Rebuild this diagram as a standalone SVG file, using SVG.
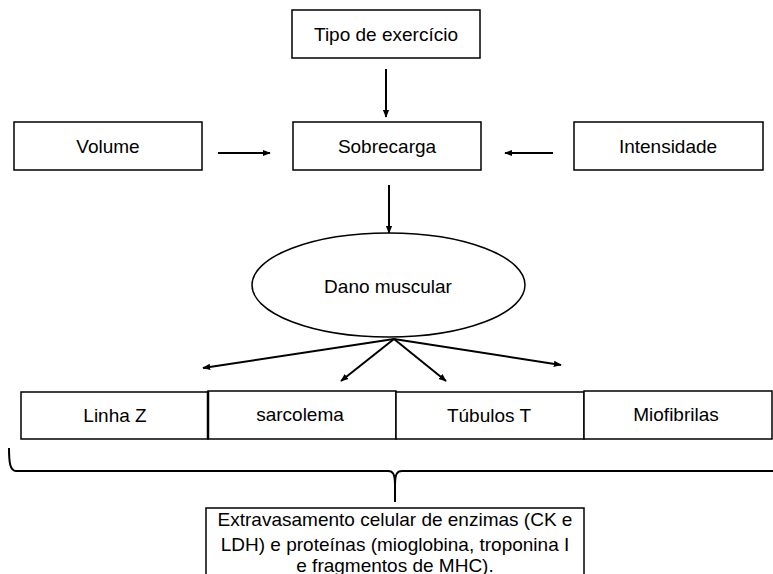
<svg xmlns="http://www.w3.org/2000/svg" width="773" height="574" viewBox="0 0 773 574">
<style>
.box{fill:#fff;stroke:#000;stroke-width:1.5}
.t{font-family:"Liberation Sans",Arial,sans-serif;font-size:19px;fill:#000;text-anchor:middle;dominant-baseline:central}
.c{stroke:#000;stroke-width:2;fill:none}
</style>
<defs>
<marker id="ah" viewBox="0 0 10 10" refX="9" refY="5" markerWidth="4" markerHeight="4" orient="auto" markerUnits="strokeWidth">
<path d="M0,1 L10,5 L0,9 z" fill="#000"/>
</marker>
</defs>
<rect width="773" height="574" fill="#fff"/>
<g id="tipo"><rect class="box" x="292" y="10" width="188" height="48"/><text class="t" x="386" y="34">Tipo de exercício</text></g>
<g id="volume"><rect class="box" x="14" y="122" width="188" height="48"/><text class="t" x="108" y="146">Volume</text></g>
<g id="sobrecarga"><rect class="box" x="293" y="122" width="188" height="48"/><text class="t" x="387" y="146">Sobrecarga</text></g>
<g id="intensidade"><rect class="box" x="574" y="122" width="189" height="48"/><text class="t" x="668" y="146">Intensidade</text></g>
<g id="dano"><ellipse class="box" cx="388.5" cy="285" rx="136.5" ry="52"/><text class="t" x="388" y="286">Dano muscular</text></g>
<g id="linhaz"><rect class="box" x="21" y="392" width="187" height="47"/><text class="t" x="115" y="415">Linha Z</text></g>
<g id="sarcolema"><rect class="box" x="208" y="391" width="188" height="48"/><text class="t" x="300" y="414">sarcolema</text></g>
<g id="tubulos"><rect class="box" x="396" y="392" width="188" height="47"/><text class="t" x="489" y="415">Túbulos T</text></g>
<g id="miofibrilas"><rect class="box" x="584" y="391" width="188" height="48"/><text class="t" x="676" y="414">Miofibrilas</text></g>
<line x1="208" y1="391" x2="208" y2="439" stroke="#000" stroke-width="2.5"/>
<g id="extravasamento"><rect class="box" x="206" y="508" width="378" height="80"/>
<text class="t" x="395" y="519">Extravasamento celular de enzimas (CK e</text>
<text class="t" x="395" y="544">LDH) e proteínas (mioglobina, troponina I</text>
<text class="t" x="395" y="565">e fragmentos de MHC).</text></g>
<g id="connectors">
<line class="c" x1="386" y1="69" x2="386" y2="117" marker-end="url(#ah)"/>
<line class="c" x1="218" y1="153" x2="270" y2="153" marker-end="url(#ah)"/>
<line class="c" x1="553" y1="153" x2="505" y2="153" marker-end="url(#ah)"/>
<line class="c" x1="389" y1="185" x2="389" y2="233" marker-end="url(#ah)"/>
<line class="c" x1="394" y1="339" x2="203" y2="368" marker-end="url(#ah)"/>
<line class="c" x1="394" y1="339" x2="341" y2="381" marker-end="url(#ah)"/>
<line class="c" x1="394" y1="339" x2="446" y2="381" marker-end="url(#ah)"/>
<line class="c" x1="394" y1="339" x2="561" y2="365" marker-end="url(#ah)"/>
<path id="brace" d="M9,448 C9,462 10,471 16,471 L388,471 C393,471 395,474 395,485 L395,502 M395,485 C395,474 397,471 402,471 L773,471" stroke="#000" stroke-width="2" fill="none"/>
</g>
</svg>
